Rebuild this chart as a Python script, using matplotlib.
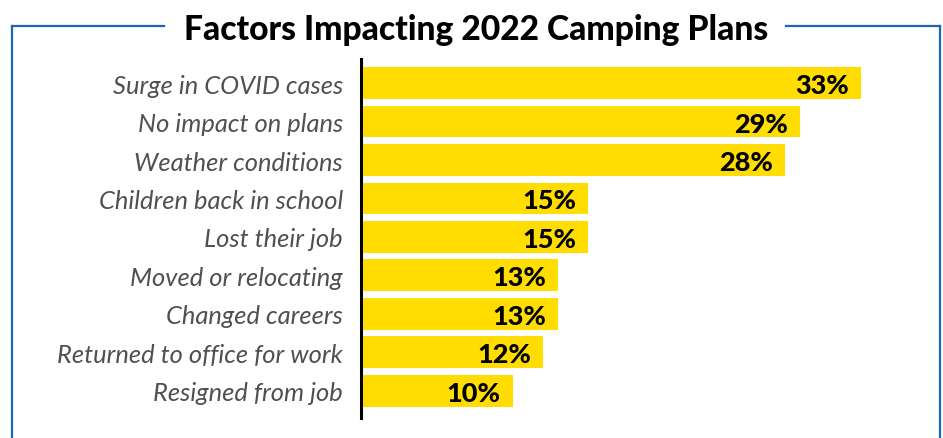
"""Factors impacting 2022 camping plans - horizontal bar chart."""

import matplotlib
matplotlib.use("Agg")
import matplotlib.pyplot as plt
from matplotlib.lines import Line2D

categories = [
    "Surge in COVID cases",
    "No impact on plans",
    "Weather conditions",
    "Children back in school",
    "Lost their job",
    "Moved or relocating",
    "Changed careers",
    "Returned to office for work",
    "Resigned from job",
]
values = [33, 29, 28, 15, 15, 13, 13, 12, 10]

BLUE = "#1a66b8"
YELLOW = "#ffdd00"
W, H = 943, 439

fig = plt.figure(figsize=(W / 100, H / 100), dpi=100)
fig.patch.set_facecolor("white")

# axes placed in pixel terms: left edge at axis line, bars from y=60 to 419
left, right, top, bottom = 361, 920, 60, 419
ax = fig.add_axes([left / W, 1 - bottom / H, (right - left) / W, (bottom - top) / H])

y = list(range(len(categories)))
ax.barh(y, values, height=0.83, color=YELLOW, zorder=2)
ax.set_ylim(len(categories) - 1 + 0.705, -0.625)
ax.set_xlim(0, (right - left) / 15.15)

ax.set_yticks(y)
ax.set_yticklabels(categories, fontsize=18.4, fontstyle="italic", color="#505050",
                   family="Lato")
ax.tick_params(axis="y", length=0, pad=13)
ax.set_xticks([])
for s in ["top", "right", "bottom"]:
    ax.spines[s].set_visible(False)
ax.spines["left"].set_linewidth(2.2)
ax.spines["left"].set_color("black")
ax.spines["left"].set_zorder(3)

for yi, v in zip(y, values):
    ax.annotate(f"{v}%", (v, yi), xytext=(-12, 0), textcoords="offset pixels",
                ha="right", va="center_baseline", fontsize=19.5, fontweight="black",
                family="Lato", color="black", zorder=4)

# title and frame
fig.text(476 / W, 1 - 27 / H, "Factors Impacting 2022 Camping Plans", ha="center",
         va="center_baseline", fontsize=24.2, fontweight="black", family="Lato",
         color="black")
lw = 1.6
fy = 1 - 27 / H
fig.add_artist(Line2D([12 / W, 12 / W], [0, fy], color=BLUE, lw=lw))
fig.add_artist(Line2D([12 / W, 164 / W], [fy, fy], color=BLUE, lw=lw))
fig.add_artist(Line2D([786 / W, 940 / W], [fy, fy], color=BLUE, lw=lw))
fig.add_artist(Line2D([940 / W, 940 / W], [0, fy], color=BLUE, lw=lw))

fig.savefig("out.png", dpi=100, facecolor="white")
plt.close(fig)
